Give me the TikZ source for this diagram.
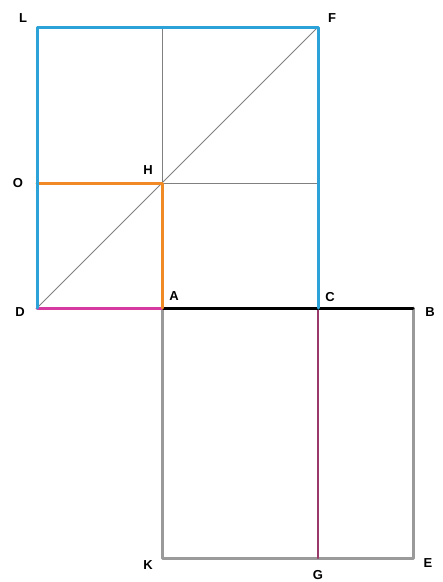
\documentclass[tikz,border=0pt]{standalone}
\usepackage{fontspec}
\setmainfont{Liberation Sans}
\definecolor{cblue}{HTML}{2BA3D8}
\definecolor{corange}{HTML}{F08A24}
\definecolor{cmag}{HTML}{D63AA0}
\definecolor{cgray}{HTML}{9A9A9A}
\definecolor{cpurple}{HTML}{9A3A6A}
\definecolor{cthin}{HTML}{808080}
\begin{document}
\begin{tikzpicture}[x=1pt,y=-1pt,
  lbl/.style={font=\bfseries\fontsize{13}{14}\selectfont, inner sep=0pt},
  thick line/.style={line width=3pt, line cap=round, line join=round},
  thin line/.style={line width=0.8pt, draw=cthin}]
\useasboundingbox (0,0) rectangle (443,582);
\coordinate (L) at (37,27);
\coordinate (F) at (318,27);
\coordinate (D) at (37,308);
\coordinate (A) at (162,308);
\coordinate (C) at (318,308);
\coordinate (B) at (413,308);
\coordinate (K) at (162,558);
\coordinate (G) at (318,558);
\coordinate (E) at (413,558);
\coordinate (O) at (37,183);
\coordinate (H) at (162,183);
\coordinate (T) at (162,27);
\coordinate (R) at (318,183);
% thin lines
\draw[thin line] (D) -- (F);
\draw[thin line] (T) -- (H);
\draw[thin line] (H) -- (R);
% coloured lines
\draw[thick line, draw=cgray] (A) -- (K) -- (E) -- (B);
\draw[thick line, draw=cpurple, line width=2.4pt] (C) -- (G);
\draw[thick line, draw=black] (A) -- (B);
\draw[thick line, draw=cmag] (D) -- (A);
\draw[thick line, draw=corange] (O) -- (H) -- (A);
\draw[thick line, draw=cblue] (D) -- (L) -- (F) -- (C);
% labels
\node[lbl] (nL) at (23,18) {L};
\node[lbl] (nF) at (332,18) {F};
\node[lbl] (nO) at (18,183) {O};
\node[lbl] (nH) at (148,170) {H};
\node[lbl] (nD) at (20,312) {D};
\node[lbl] (nA) at (174,296) {A};
\node[lbl] (nC) at (330,297) {C};
\node[lbl] (nB) at (430,312) {B};
\node[lbl] (nK) at (148,565) {K};
\node[lbl] (nG) at (318,575) {G};
\node[lbl] (nE) at (428,563) {E};
\end{tikzpicture}
\end{document}
